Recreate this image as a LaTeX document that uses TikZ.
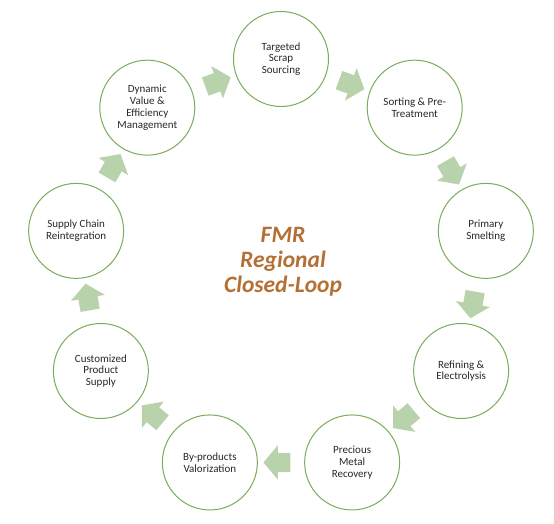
\documentclass[tikz,border=0pt]{standalone}
\usepackage{fontspec}
\setmainfont{Carlito}
\usepackage{tikz}
\usetikzlibrary{shapes.arrows}

\definecolor{ringgreen}{RGB}{122,172,92}
\definecolor{flowgreen}{RGB}{184,210,172}
\definecolor{titlebrown}{RGB}{180,112,52}
\definecolor{labelgray}{RGB}{40,40,40}

\begin{document}
\begin{tikzpicture}[
    x=1pt, y=1pt, % one unit is one point
    stage/.style={
        circle, % round step nodes
        draw=ringgreen, % thin green outline
        line width=1pt,
        fill=white,
        minimum size=95pt,
        inner sep=0pt,
        align=center, % center text within nodes
        text=labelgray,
        font=\fontsize{11}{11.7}\selectfont
    },
    flow/.style={
        single arrow, % block arrow between steps
        draw=none,
        fill=flowgreen, % light green fill
        minimum height=27pt, % arrow length
        inner xsep=0pt,
        inner ysep=9.5pt, % half the shaft width
        single arrow head extend=7.5pt,
        single arrow tip angle=100,
        sloped, allow upside down % turn along the connector
    }
]
\useasboundingbox (-281,-257) rectangle (273,267);

\node[stage] (sourcing) at (90:208) {Targeted\\Scrap\\Sourcing};
\node[stage] (sorting) at (50:208) {Sorting \& Pre-\\Treatment};
\node[stage] (smelting) at (10:208) {Primary\\Smelting};
\node[stage] (refining) at (-30:208) {Refining \&\\Electrolysis};
\node[stage] (precious) at (-70:208) {Precious\\Metal\\Recovery};
\node[stage] (byproducts) at (-110:208) {By-products\\Valorization};
\node[stage] (supply) at (-150:208) {Customized\\Product\\Supply};
\node[stage] (chain) at (170:208) {Supply Chain\\Reintegration};
\node[stage] (dynamic) at (130:208) {Dynamic\\Value \&\\Efficiency\\Management};

\path (sourcing) -- node[flow] (f1) {} (sorting);
\path (sorting) -- node[flow] (f2) {} (smelting);
\path (smelting) -- node[flow] (f3) {} (refining);
\path (refining) -- node[flow] (f4) {} (precious);
\path (precious) -- node[flow] (f5) {} (byproducts);
\path (byproducts) -- node[flow] (f6) {} (supply);
\path (supply) -- node[flow] (f7) {} (chain);
\path (chain) -- node[flow] (f8) {} (dynamic);
\path (dynamic) -- node[flow] (f9) {} (sourcing);

\node[align=center, text=titlebrown,
      font=\fontsize{23.5}{25}\selectfont\bfseries\itshape] (title) at (2,5)
    {FMR\\Regional\\Closed-Loop};
\end{tikzpicture}
\end{document}
